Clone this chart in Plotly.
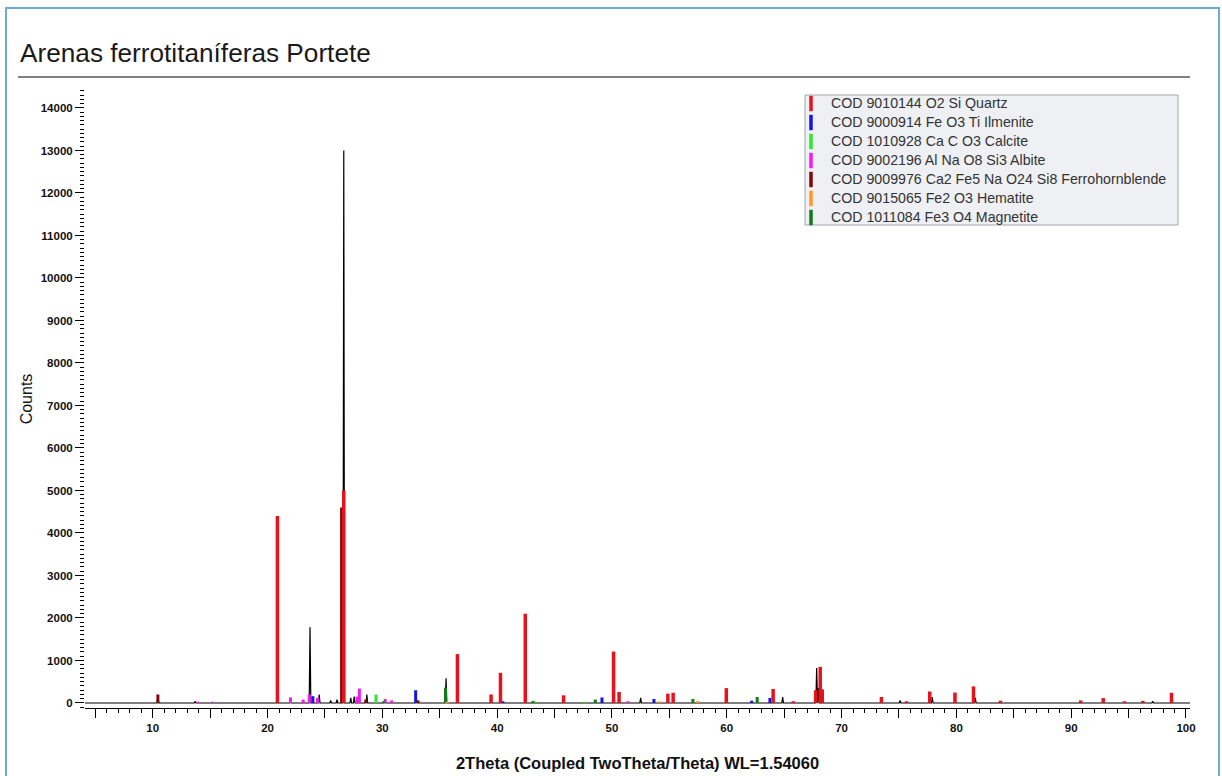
import plotly.graph_objects as go

# ---------------- data ----------------
# measured pattern (black): visible peak positions (2theta, deg) and heights (counts)
measured_2theta = [10.45, 13.7, 22.0, 23.7, 24.5, 25.5, 26.05, 26.64, 27.25, 27.55,
                   28.65, 30.24, 32.95, 35.55, 52.5, 64.87, 67.83, 67.98, 75.1,
                   77.9, 81.65, 97.1]
measured_counts = [180, 40, 90, 1780, 200, 60, 80, 13000, 120, 150,
                   200, 90, 130, 580, 120, 140, 820, 350, 60,
                   140, 120, 40]

quartz_2theta = [20.86, 26.64, 36.54, 39.47, 40.29, 42.45, 45.79, 50.14, 50.62, 54.87,
                 55.33, 59.96, 64.04, 65.79, 67.74, 68.14, 68.32, 73.47, 75.66, 77.68,
                 79.88, 81.49, 83.84, 90.83, 92.79, 94.64, 96.24, 98.74]
quartz_counts = [4400, 5000, 1150, 200, 710, 2100, 180, 1210, 260, 220,
                 240, 350, 330, 40, 300, 850, 320, 140, 40, 270,
                 245, 390, 55, 60, 115, 40, 50, 240]

ilmenite_2theta = [23.95, 32.9, 40.5, 49.13, 53.66, 62.17, 63.76]
ilmenite_counts = [160, 300, 40, 130, 95, 55, 120]

calcite_2theta = [29.45, 43.2, 47.6]
calcite_counts = [200, 50, 30]

albite_2theta = [13.9, 15.2, 22.0, 23.1, 23.63, 24.35, 27.8, 28.0, 30.25, 30.8, 51.4]
albite_counts = [30, 30, 130, 80, 200, 120, 150, 340, 90, 60, 40]

hornblende_2theta = [10.45, 26.45, 28.55, 33.1]
hornblende_counts = [200, 4600, 80, 60]

hematite_2theta = [33.2, 35.65, 54.1, 57.45]
hematite_counts = [40, 30, 40, 50]

magnetite_2theta = [30.1, 35.5, 43.1, 48.55, 57.05, 62.65]
magnetite_counts = [40, 360, 40, 80, 95, 140]

phase_names = [
    "COD 9010144 O2 Si Quartz",
    "COD 9000914 Fe O3 Ti Ilmenite",
    "COD 1010928 Ca C O3 Calcite",
    "COD 9002196 Al Na O8 Si3 Albite",
    "COD 9009976 Ca2 Fe5 Na O24 Si8 Ferrohornblende",
    "COD 9015065 Fe2 O3 Hematite",
    "COD 1011084 Fe3 O4 Magnetite",
]
phase_colors = ["#e8121c", "#1414e6", "#2ee62e", "#f01cf0", "#7a0a0a", "#ff9a2a", "#127a1a"]
phase_data = [
    (quartz_2theta, quartz_counts),
    (ilmenite_2theta, ilmenite_counts),
    (calcite_2theta, calcite_counts),
    (albite_2theta, albite_counts),
    (hornblende_2theta, hornblende_counts),
    (hematite_2theta, hematite_counts),
    (magnetite_2theta, magnetite_counts),
]

X_RANGE = [4.1, 100.35]
Y_RANGE = [-118, 14423]
PEAK_HW = 0.07

# ---------------- geometry helpers ----------------
W, H = 1222, 776
ML, MR, MT, MB = 85, 32, 90, 68
PW, PH = W - ML - MR, H - MT - MB


def px(x):
    return (x - ML) / PW


def py(y):
    return (H - MB - y) / PH


fig = go.Figure()

# measured pattern as a polyline built from the peak list
mx, my = [X_RANGE[0]], [0]
for p, h in sorted(zip(measured_2theta, measured_counts)):
    mx += [p - PEAK_HW, p, p + PEAK_HW]
    my += [0, h, 0]
mx.append(X_RANGE[1])
my.append(0)
fig.add_trace(go.Scatter(x=mx, y=my, mode="lines", line=dict(color="black", width=1.2),
                         showlegend=False, hoverinfo="skip"))

# phase sticks (drawn after the measured pattern, as in the reference)
draw_order = [3, 1, 2, 6, 5, 4, 0]
for i in draw_order:
    xs, ys = phase_data[i]
    sx, sy = [], []
    for p, h in zip(xs, ys):
        sx += [p, p, None]
        sy += [0, h, None]
    fig.add_trace(go.Scatter(x=sx, y=sy, mode="lines",
                             line=dict(color=phase_colors[i], width=3.5 if i == 0 else 3),
                             showlegend=False, hoverinfo="skip"))

# legend entries
for name, col in zip(phase_names, phase_colors):
    fig.add_trace(go.Scatter(x=[None], y=[None], mode="markers",
                             name='<span style="font-size:14.2px">' + name + "</span>",
                             marker=dict(symbol="line-ns", size=11,
                                         line=dict(width=3.5, color=col))))

fig.update_layout(
    width=W, height=H,
    margin=dict(l=ML, r=MR, t=MT, b=MB),
    paper_bgcolor="white", plot_bgcolor="white",
    font=dict(family="Liberation Sans, Arial, sans-serif", color="#111111"),
    showlegend=True,
    legend=dict(x=px(791), y=py(89), xanchor="left", yanchor="top",
                bgcolor="rgba(0,0,0,0)", borderwidth=0,
                font=dict(size=12, color="#333333"), itemclick=False),
    xaxis=dict(
        range=X_RANGE, showgrid=False, zeroline=False, automargin=False,
        showline=True, linecolor="black", linewidth=1,
        tickmode="array", tickvals=list(range(5, 101, 5)),
        ticktext=[str(v) if v % 10 == 0 else "" for v in range(5, 101, 5)],
        ticks="outside", ticklen=9, tickcolor="black", tickwidth=1,
        minor=dict(tickmode="linear", tick0=0, dtick=1, ticks="outside", ticklen=4,
                   tickcolor="black", showgrid=False),
        tickfont=dict(size=11.5, color="#111111", weight="bold"),
        title=dict(text="2Theta (Coupled TwoTheta/Theta) WL=1.54060",
                   font=dict(size=16.5, color="#111111", weight="bold"), standoff=24),
    ),
    yaxis=dict(
        range=Y_RANGE, showgrid=False, zeroline=False, showline=False, automargin=False,
        tickmode="linear", tick0=0, dtick=1000, tickformat="d",
        ticks="outside", ticklen=9, tickcolor="black", tickwidth=1,
        minor=dict(tickmode="linear", tick0=0, dtick=100, ticks="outside", ticklen=4,
                   tickcolor="black", showgrid=False),
        tickfont=dict(size=11.5, color="#111111", weight="bold"),
        title=dict(text="Counts", font=dict(size=16, color="#111111"), standoff=4),
    ),
    shapes=[
        dict(type="rect", xref="paper", yref="paper",
             x0=px(6), x1=px(1219), y0=py(800), y1=py(8),
             line=dict(color="#6fa8dc", width=2), fillcolor="rgba(0,0,0,0)", layer="below"),
        dict(type="line", xref="paper", yref="paper",
             x0=px(18), x1=px(1190), y0=py(77), y1=py(77),
             line=dict(color="#555555", width=1.5)),
        # legend frame
        dict(type="rect", xref="paper", yref="paper",
             x0=px(805), x1=px(1178), y0=py(225), y1=py(95),
             line=dict(color="#a0a8b0", width=1), fillcolor="#eef0f3", layer="below"),
    ],
    annotations=[
        dict(text="Arenas ferrotitaníferas Portete", xref="paper", yref="paper",
             x=px(18), y=py(53), xanchor="left", yanchor="middle", showarrow=False,
             font=dict(size=26.2, color="#1a1a1a")),
    ],
)

fig.write_html("out.html")
